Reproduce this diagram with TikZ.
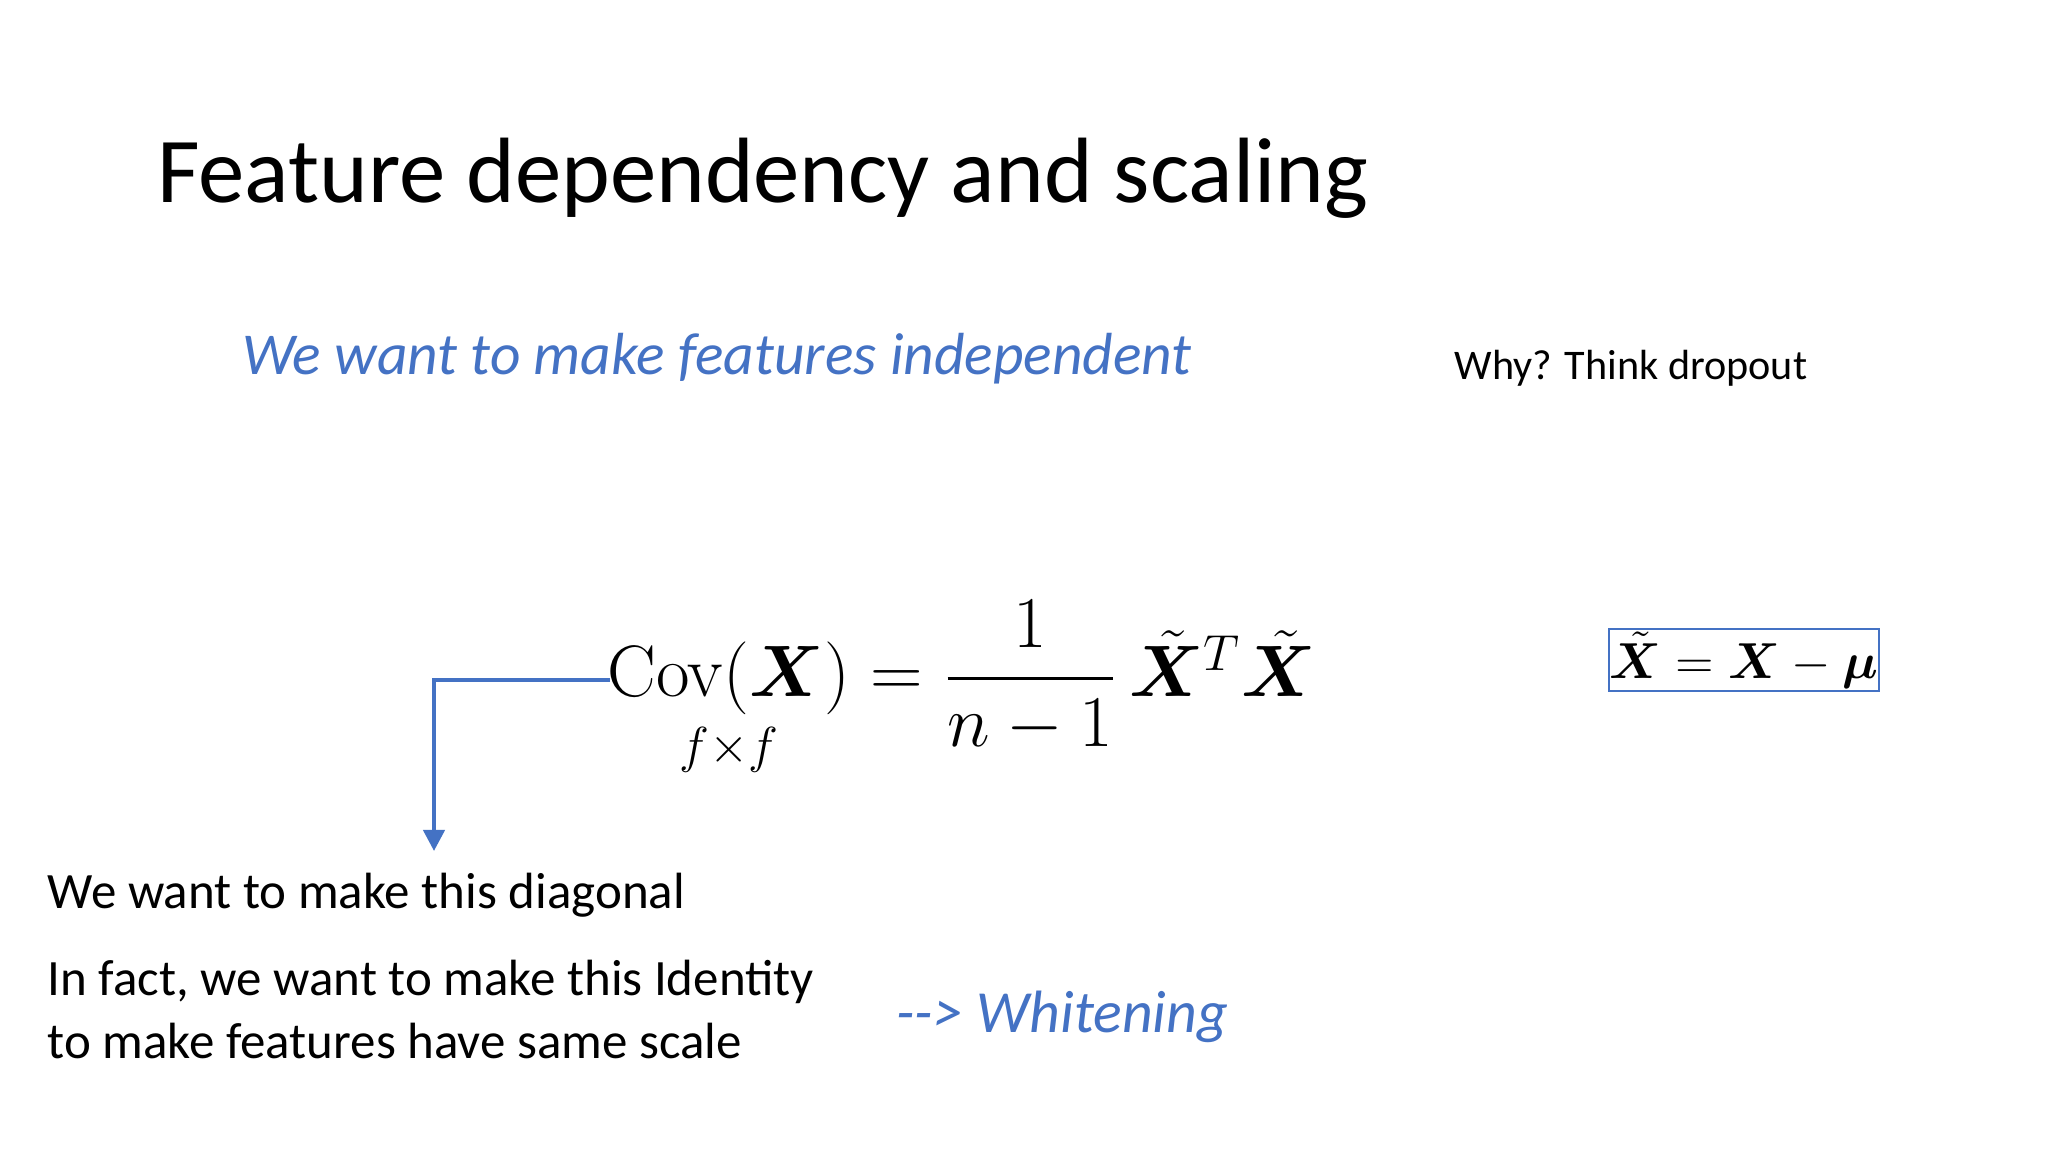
\documentclass[tikz,border=0pt]{standalone}
\usepackage{amsmath,bm}
\usepackage[no-math]{fontspec}
\setmainfont{Carlito}
\newfontfamily\lightfont{Carlito}
\usetikzlibrary{arrows.meta}
\definecolor{ppblue}{HTML}{4472C4}
\DeclareMathAlphabet{\mathcm}{OT1}{cmr}{m}{n}
\begin{document}
\begin{tikzpicture}[x=1cm,y=1cm,
  txt/.style={anchor=base west,inner sep=0pt,text=black},
  bluetxt/.style={anchor=base west,inner sep=0pt,text=ppblue,font=\itshape}]
\useasboundingbox (0,0) rectangle (20.48,-11.52);
\fill[white] (0,0) rectangle (20.48,-11.52);
\node[txt,font=\fontsize{26.4}{31}\selectfont\lightfont] (title) at (1.567,-2.024) {Feature dependency and scaling};
\node[bluetxt,font=\fontsize{16.9}{20}\selectfont\itshape] (goal) at (2.416,-3.75) {We want to make features independent};
\node[txt,font=\fontsize{12}{14}\selectfont] (why) at (14.54,-3.80) {Why? Think dropout};
\node[txt] (eq) at (6.07,-6.97) {\fontsize{21.9}{26}\selectfont$\underset{f\times f}{\mathcm{Cov}(\bm{X})} = \dfrac{1}{n-1}\,\tilde{\bm{X}}^T\tilde{\bm{X}}$};
\node[draw=ppblue,line width=0.6pt,minimum width=2.70cm,minimum height=0.62cm,inner sep=0pt] (box) at (17.44,-6.60) {\fontsize{15}{18}\selectfont$\tilde{\bm{X}} = \bm{X} - \bm{\mu}$};
\coordinate (s) at (6.10,-6.80);
\coordinate (e) at (4.34,-8.51);
\draw[ppblue,line width=1.2pt,-{Triangle[length=6pt,width=6pt]}] (s) -| (e);
\node[txt,font=\fontsize{14.5}{17}\selectfont] (diag) at (0.47,-9.08) {We want to make this diagonal};
\node[txt,font=\fontsize{14.5}{17}\selectfont] (ident) at (0.47,-9.95) {In fact, we want to make this Identity};
\node[txt,font=\fontsize{14.5}{17}\selectfont] (scale) at (0.47,-10.58) {to make features have same scale};
\node[bluetxt,font=\fontsize{17}{20}\selectfont\itshape] (white) at (8.96,-10.32) {-{}-> Whitening};
\end{tikzpicture}
\end{document}
